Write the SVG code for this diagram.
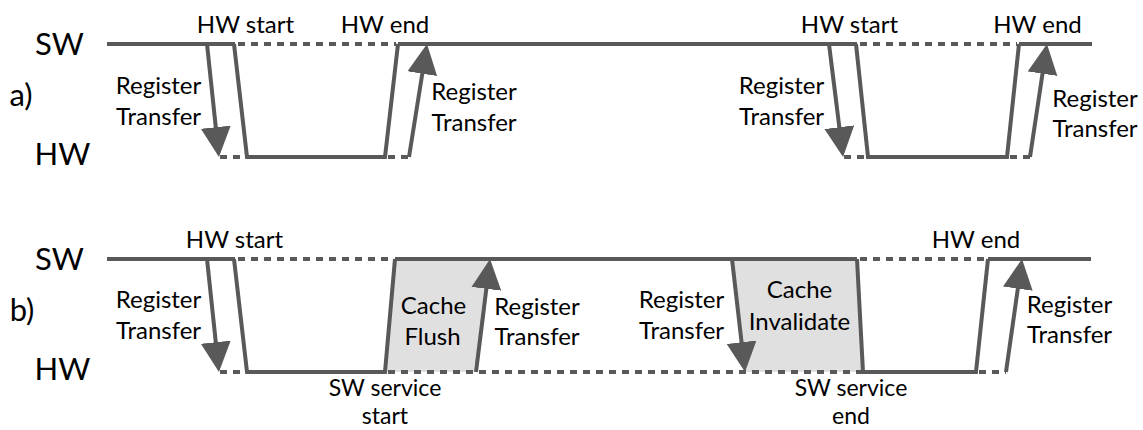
<svg xmlns="http://www.w3.org/2000/svg" width="1143" height="430" viewBox="0 0 1143 430">
<style>
.ln{stroke:#595959;stroke-width:4;fill:none;stroke-linejoin:miter}
.ds{stroke:#595959;stroke-width:4;fill:none;stroke-dasharray:7 6}
.ar{stroke:#595959;stroke-width:4;fill:none;marker-end:url(#ah)}
.fl{fill:#e0e0e0;stroke:none}
.t{font-family:Lato,"Open Sans",sans-serif;font-size:24px;fill:#000;text-anchor:middle}
.s{font-size:23px}
.big{font-family:Lato,"Open Sans",sans-serif;font-size:31px;fill:#000;text-anchor:middle}
</style>
<defs>
<marker id="ah" markerUnits="userSpaceOnUse" markerWidth="32" markerHeight="32" refX="2" refY="15" orient="auto">
<path d="M0,0 L30,15 L0,30 z" fill="#595959"/>
</marker>
</defs>
<g id="labels-a">
<text class="big" x="59.5" y="55">SW</text>
<text class="big" x="21" y="106">a)</text>
<text class="big" x="62.5" y="165">HW</text>
</g>
<g id="labels-b">
<text class="big" x="59.5" y="270">SW</text>
<text class="big" x="22" y="321">b)</text>
<text class="big" x="62.5" y="380">HW</text>
</g>
<g id="fills">
<polygon class="fl" points="385,372 395,259 490,259 476,372"/>
<polygon class="fl" points="732,259 857,259 863,372 745,372"/>
</g>
<g id="connectors">
<path class="ln" d="M107,44 H235"/>
<path class="ds" d="M238,44 H396"/>
<path class="ln" d="M398,44 H857"/>
<path class="ds" d="M860,44 H1017"/>
<path class="ln" d="M1019,44 H1092"/>
<path class="ln" d="M234,44 L247,157 H385 L398,44"/>
<path class="ds" d="M220,157 H245"/>
<path class="ds" d="M388,157 H409"/>
<path class="ln" d="M856,44 L868,157 H1007 L1019,44"/>
<path class="ds" d="M844,157 H866"/>
<path class="ds" d="M1010,157 H1030"/>
<path class="ar" d="M207,44 L216,129.2"/>
<path class="ar" d="M409,157 L422.6,71.7"/>
<path class="ar" d="M829,44 L839.6,129.2"/>
<path class="ar" d="M1030,157 L1042.8,71.7"/>
<path class="ln" d="M107,259 H235"/>
<path class="ds" d="M238,259 H393"/>
<path class="ln" d="M395,259 H857"/>
<path class="ds" d="M860,259 H986"/>
<path class="ln" d="M988,259 H1091"/>
<path class="ln" d="M234,259 L247,372 H385 L395,259"/>
<path class="ds" d="M220,372 H245"/>
<path class="ds" d="M388,372 H861"/>
<path class="ln" d="M857,259 L863,372 H976 L988,259"/>
<path class="ds" d="M979,372 H1006"/>
<path class="ar" d="M207,259 L216,344.2"/>
<path class="ar" d="M476,372 L486.6,286.8"/>
<path class="ar" d="M732,259 L741.8,344.2"/>
<path class="ar" d="M1006,372 L1018.1,286.7"/>
</g>
<g id="text-a">
<text class="t" x="245.5" y="33">HW start</text>
<text class="t" x="385" y="33">HW end</text>
<text class="t" x="849.5" y="33">HW start</text>
<text class="t" x="1037.5" y="33">HW end</text>
<text class="t" x="158.5" y="94">Register</text>
<text class="t" x="158.5" y="125">Transfer</text>
<text class="t" x="474" y="100">Register</text>
<text class="t" x="474" y="131">Transfer</text>
<text class="t" x="781.5" y="94">Register</text>
<text class="t" x="781.5" y="125">Transfer</text>
<text class="t" x="1095" y="107">Register</text>
<text class="t" x="1095" y="137">Transfer</text>
</g>
<g id="text-b">
<text class="t" x="234.5" y="248">HW start</text>
<text class="t" x="976" y="248">HW end</text>
<text class="t" x="158.5" y="308">Register</text>
<text class="t" x="158.5" y="339">Transfer</text>
<text class="t" x="433.5" y="314">Cache</text>
<text class="t" x="432.5" y="345">Flush</text>
<text class="t" x="537" y="315">Register</text>
<text class="t" x="537" y="345">Transfer</text>
<text class="t" x="681.5" y="308">Register</text>
<text class="t" x="681.5" y="339">Transfer</text>
<text class="t" x="799.5" y="298">Cache</text>
<text class="t" x="799.5" y="330">Invalidate</text>
<text class="t" x="1069.5" y="313">Register</text>
<text class="t" x="1069.5" y="343">Transfer</text>
<text class="t s" x="385" y="396">SW service</text>
<text class="t s" x="385" y="424">start</text>
<text class="t s" x="851" y="396">SW service</text>
<text class="t s" x="851" y="424">end</text>
</g>
</svg>
